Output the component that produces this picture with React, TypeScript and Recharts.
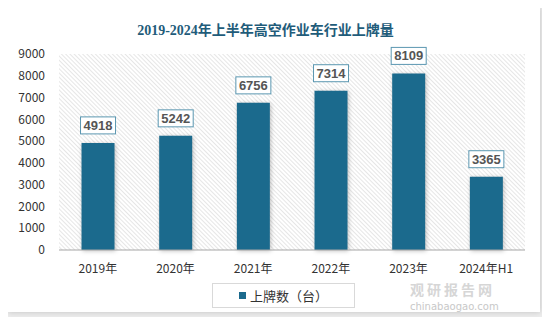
import React from 'react';
import { BarChart, Bar, XAxis, YAxis, CartesianGrid, LabelList } from 'recharts';

const years = ['2019年', '2020年', '2021年', '2022年', '2023年', '2024年H1'];
const plates = [4918, 5242, 6756, 7314, 8109, 3365];
const yTicks = [0, 1000, 2000, 3000, 4000, 5000, 6000, 7000, 8000, 9000];

const data = years.map((year, i) => ({ year, plates: plates[i] }));

const BAR_COLOR = '#1b6a8d';
const CJK = '"Noto Sans CJK SC", "Noto Sans", sans-serif';

const ValueBox = (props: any) => {
  const { x, y, width, value } = props;
  const w = 35;
  const h = 17;
  const cx = x + width / 2;
  const top = y - 9 - h;
  return (
    <g>
      <rect x={cx - w / 2} y={top} width={w} height={h} fill="#fff" stroke="#5b97b1" strokeWidth={1} />
      <text
        x={cx}
        y={top + h / 2 + 1}
        textAnchor="middle"
        dominantBaseline="middle"
        fontSize={13}
        fontWeight="bold"
        fill="#555"
        fontFamily='"Liberation Sans", Arial, sans-serif'
      >
        {value}
      </text>
    </g>
  );
};

export default function App() {
  return (
    <div style={{ margin: -8, width: 550, height: 325, background: '#ececec', position: 'relative', overflow: 'hidden' }}>
      <div
        style={{
          position: 'absolute',
          left: 8,
          top: 7,
          width: 532,
          height: 305,
          background: '#fff',
          boxShadow: '0 0 6px rgba(0,0,0,0.18)',
        }}
      >
        <div
          style={{
            position: 'absolute',
            top: 12,
            left: 0,
            width: 515,
            textAlign: 'center',
            fontFamily: '"Liberation Serif", "Noto Sans CJK SC", serif',
            fontWeight: 'bold',
            fontSize: 14,
            color: '#1f5c7a',
          }}
        >
          2019-2024年上半年高空作业车行业上牌量
        </div>
        <BarChart
          width={532}
          height={305}
          data={data}
          margin={{ top: 47, right: 15, bottom: 32, left: 0 }}
          barCategoryGap="29%"
          style={{ position: 'absolute', left: 0, top: 0 }}
        >
          <defs>
            <pattern id="hatch" width={3} height={3} patternUnits="userSpaceOnUse" patternTransform="rotate(-45)">
              <rect width={3} height={3} fill="#ffffff" />
              <rect x={1} y={0} width={1} height={3} fill="#e6e6e6" />
            </pattern>
          </defs>
          <CartesianGrid horizontal={false} vertical={false} fill="url(#hatch)" fillOpacity={1} />
          <XAxis
            dataKey="year"
            axisLine={{ stroke: '#a6a6a6' }}
            tickLine={false}
            tickMargin={8}
            tick={{ fontSize: 12, fill: '#333', fontFamily: CJK }}
          />
          <YAxis
            width={51}
            domain={[0, 9000]}
            ticks={yTicks}
            interval={0}
            axisLine={false}
            tickLine={false}
            tickSize={0}
            tickMargin={14}
            tick={{ fontSize: 12, fill: '#333', fontFamily: CJK }}
          />
          <Bar dataKey="plates" fill={BAR_COLOR} isAnimationActive={false} style={{ filter: 'drop-shadow(1px 1px 2px rgba(0,0,0,0.25))' }}>
            <LabelList dataKey="plates" content={<ValueBox />} />
          </Bar>
        </BarChart>
        <div
          style={{
            position: 'absolute',
            left: 204,
            top: 276,
            width: 141,
            height: 23,
            border: '1px solid #d9d9d9',
            background: '#fff',
            display: 'flex',
            alignItems: 'center',
            justifyContent: 'center',
            fontFamily: CJK,
            fontSize: 13,
            color: '#333',
          }}
        >
          <span style={{ width: 7, height: 7, background: BAR_COLOR, marginRight: 4, display: 'inline-block' }} />
          上牌数（台）
        </div>
        <div
          style={{
            position: 'absolute',
            left: 402,
            top: 272,
            fontFamily: CJK,
            fontSize: 14,
            fontWeight: 'bold',
            letterSpacing: 3,
            lineHeight: 'normal',
            color: '#d6d6d6',
          }}
        >
          观研报告网
        </div>
        <div
          style={{
            position: 'absolute',
            left: 402,
            top: 294,
            fontFamily: '"DejaVu Sans", sans-serif',
            fontSize: 10,
            lineHeight: 'normal',
            color: '#c8c8c8',
          }}
        >
          chinabaogao.com
        </div>
      </div>
    </div>
  );
}
